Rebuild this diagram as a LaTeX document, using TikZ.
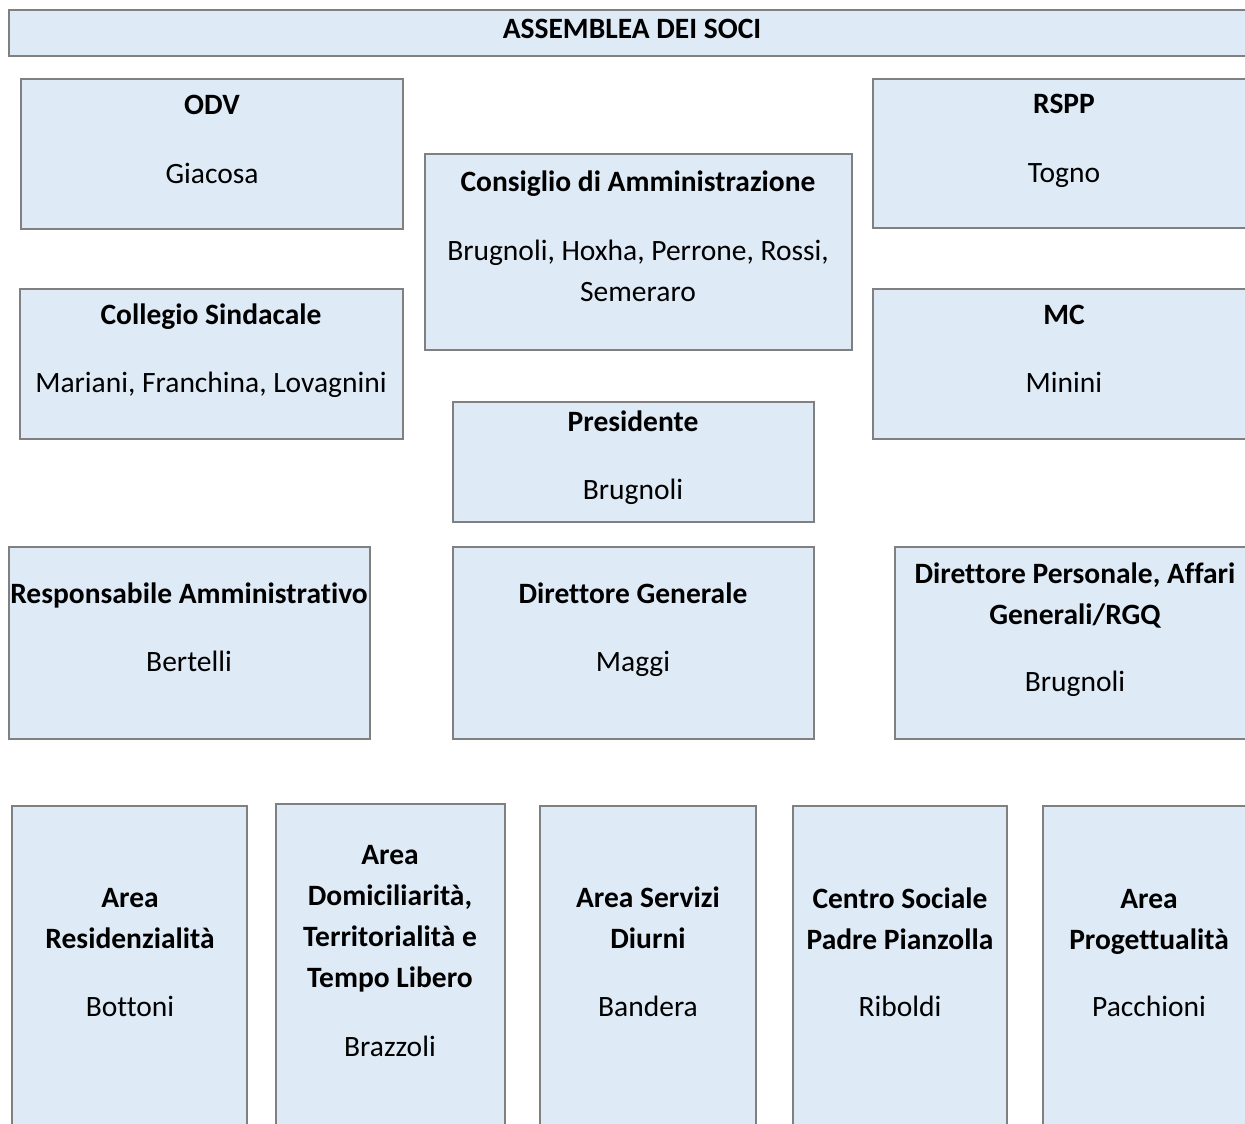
\documentclass[tikz,border=0pt]{standalone}
\usepackage{fontspec}
\setmainfont[Ligatures={NoCommon}]{Carlito}
\definecolor{boxfill}{HTML}{DEEAF6}
\definecolor{boxline}{HTML}{808080}
\begin{document}
\begin{tikzpicture}[x=1pt,y=-1pt,
  box/.style={draw=boxline, fill=boxfill, line width=1.6pt, inner sep=0pt, outer sep=0pt, anchor=north west},
  txt/.style={inner sep=0pt, outer sep=0pt, anchor=base, align=center, font=\fontsize{29.5}{41}\selectfont},
  ttl/.style={txt, font=\fontsize{29.5}{41}\selectfont\bfseries}]
\useasboundingbox (0,0) rectangle (1245,1124);
\clip (0,0) rectangle (1245,1124);
\newcommand\bx[5]{\node[box, minimum width={(#4-#2)*1pt}, minimum height={(#5-#3)*1pt}] (#1) at (#2,#3) {};}
% boxes
\bx{asm}{9}{10}{1265}{56}
\bx{odv}{21}{79}{403}{229}
\bx{rspp}{873}{79}{1265}{228}
\bx{cda}{425}{154}{852}{350}
\bx{col}{20}{289}{403}{439}
\bx{mc}{873}{289}{1265}{439}
\bx{pres}{453}{402}{814}{522}
\bx{ramm}{9}{547}{370}{739}
\bx{dg}{453}{547}{814}{739}
\bx{dp}{895}{547}{1265}{739}
\bx{res}{12}{806}{247}{1140}
\bx{dom}{276}{804}{505}{1140}
\bx{serv}{540}{806}{756}{1140}
\bx{cent}{793}{806}{1007}{1140}
\bx{prog}{1043}{806}{1265}{1140}
% texts
\node[ttl] (asmT) at (632,39) {ASSEMBLEA DEI SOCI};
\node[ttl] (odvT) at (212,114) {ODV};
\node[txt] (odvN) at (212,183) {Giacosa};
\node[ttl] (rsppT) at (1064,113) {RSPP};
\node[txt] (rsppN) at (1064,182) {Togno};
\node[ttl] (cdaT) at (638,191) {Consiglio di Amministrazione};
\node[txt] (cdaN) at (638,301) {Brugnoli, Hoxha, Perrone, Rossi,\\Semeraro};
\node[ttl] (colT) at (211,324) {Collegio Sindacale};
\node[txt] (colN) at (211,392) {Mariani, Franchina, Lovagnini};
\node[ttl] (mcT) at (1064,324) {MC};
\node[txt] (mcN) at (1064,392) {Minini};
\node[ttl] (presT) at (633,431) {Presidente};
\node[txt] (presN) at (633,499) {Brugnoli};
\node[ttl] (rammT) at (189,603) {Responsabile Amministrativo};
\node[txt] (rammN) at (189,671) {Bertelli};
\node[ttl] (dgT) at (633,603) {Direttore Generale};
\node[txt] (dgN) at (633,671) {Maggi};
\node[ttl] (dpT) at (1075,624) {Direttore Personale, Affari\\Generali/RGQ};
\node[txt] (dpN) at (1075,691) {Brugnoli};
\node[ttl] (resT) at (130,948) {Area\\Residenzialità};
\node[txt] (resN) at (130,1016) {Bottoni};
\node[ttl] (domT) at (390,987) {Area\\Domiciliarità,\\Territorialità e\\Tempo Libero};
\node[txt] (domN) at (390,1056) {Brazzoli};
\node[ttl] (servT) at (648,948) {Area Servizi\\Diurni};
\node[txt] (servN) at (648,1016) {Bandera};
\node[ttl] (centT) at (900,949) {Centro Sociale\\Padre Pianzolla};
\node[txt] (centN) at (900,1016) {Riboldi};
\node[ttl] (progT) at (1149,949) {Area\\Progettualità};
\node[txt] (progN) at (1149,1016) {Pacchioni};
\end{tikzpicture}
\end{document}
